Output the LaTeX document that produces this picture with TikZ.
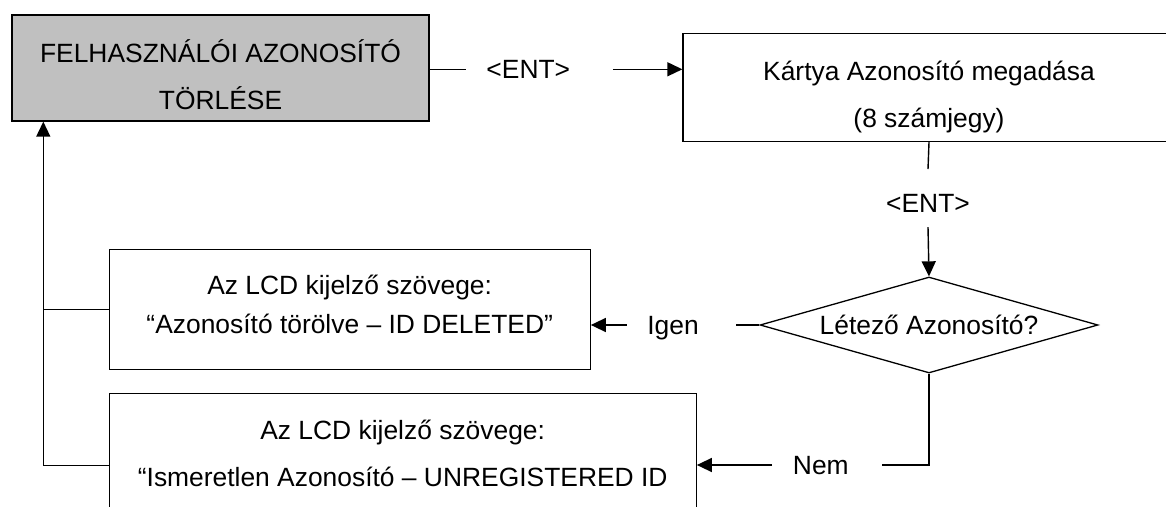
\documentclass[tikz,border=0pt]{standalone}
\usepackage{fontspec}
\setmainfont{Liberation Sans}
\usetikzlibrary{shapes.geometric,arrows.meta}
\definecolor{cgray}{HTML}{C0C0C0}

\begin{document}
\begin{tikzpicture}[x=1pt,y=1pt,
  box/.style={draw,line width=1.3pt,align=center,inner sep=4pt,
    font=\fontsize{26.4}{47}\selectfont},
  head/.style={box,fill=cgray},
  decide/.style={draw,line width=1.3pt,diamond,aspect=3.52,inner sep=2pt,
    minimum width=338pt,minimum height=96pt,font=\fontsize{26.4}{32}\selectfont},
  lbl/.style={inner sep=0pt,text depth=0pt,font=\fontsize{26.4}{32}\selectfont},
  arr/.style={-{Triangle[length=15pt,width=14pt]}},
  line width=1.4pt]
  \useasboundingbox (0,0) rectangle (1166,506);
  \clip (0,0) rectangle (1166,506);
  % boxes
  \node[head,minimum width=417pt,minimum height=106pt] (del) at (220.5,438)
    {\rule{0pt}{36pt}FELHASZNÁLÓI AZONOSÍTÓ\\TÖRLÉSE};
  \node[box,minimum width=492pt,minimum height=108pt] (card) at (929,418.5)
    {\rule{0pt}{38.6pt}Kártya Azonosító megadása\\(8 számjegy)};
  \node[decide] (exists) at (929,181) {Létező Azonosító?};
  \node[box,font=\fontsize{26.4}{39}\selectfont,minimum width=481pt,
    minimum height=120pt] (deleted) at (349.7,196.7)
    {Az LCD kijelző szövege:\\“Azonosító törölve – ID DELETED”\rule[-10.4pt]{0pt}{10.4pt}};
  \node[box,minimum width=587pt,minimum height=119.4pt] (unknown) at (402.7,53)
    {Az LCD kijelző szövege:\\“Ismeretlen Azonosító – UNREGISTERED ID};
  % labels
  \node[lbl] (ent1) at (528.3,436.7) {<ENT>};
  \node[lbl] (ent2) at (928,302.7) {<ENT>};
  \node[lbl] (igen) at (673,181) {Igen};
  \node[lbl] (nem) at (820.8,41) {Nem};
  \coordinate (turn) at (43.3,40.3);
  % connectors
  \draw (del.east |- ent1) -- ([xshift=-20pt]ent1.west);
  \draw[arr] ([xshift=42pt]ent1.east) -- (ent1 -| card.west);
  \draw (card.south) -- ([yshift=24.5pt]ent2.north);
  \draw[arr] ([yshift=-14pt]ent2.south) -- (exists.north);
  \draw (exists.west) -- ([xshift=37pt]igen.east);
  \draw[arr] ([xshift=-20pt]igen.west) -- (igen -| deleted.east);
  \draw (exists.south) |- ([xshift=33pt]nem.east);
  \draw[arr] ([xshift=-20pt]nem.west) -- (nem -| unknown.east);
  \draw (deleted.west) -- (deleted.west -| turn);
  \draw[arr] (unknown.west |- turn) -- (turn) -- (turn |- del.south);
\end{tikzpicture}
\end{document}
